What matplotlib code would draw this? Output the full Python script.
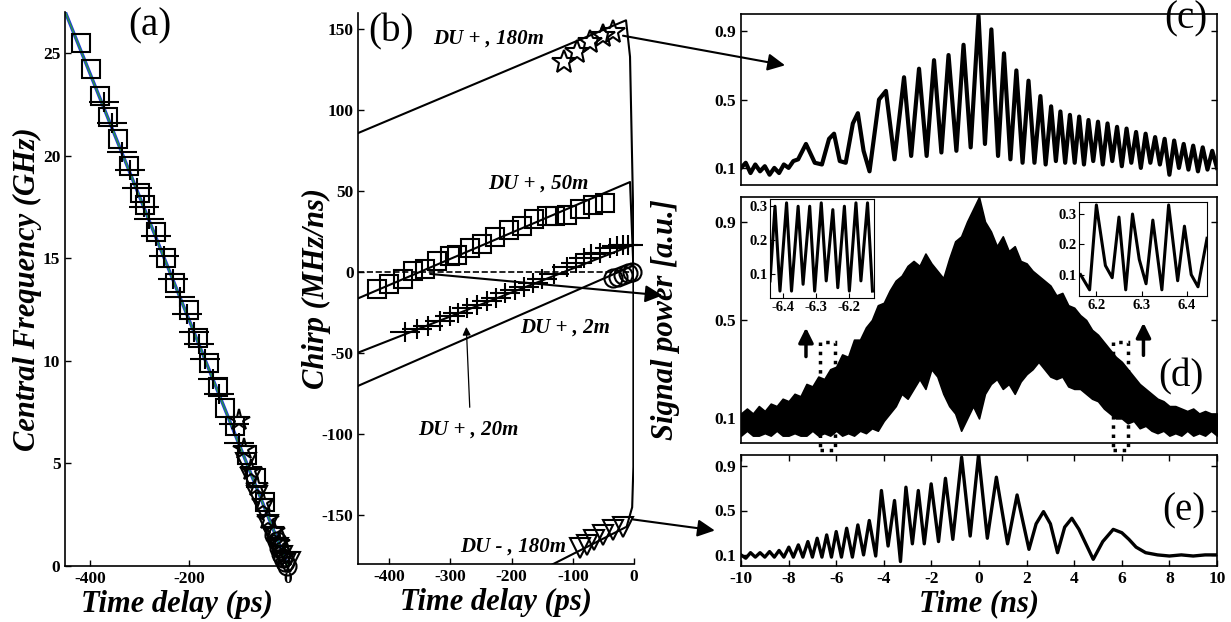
import matplotlib
matplotlib.use('Agg')
import matplotlib.pyplot as plt
from matplotlib.patches import ConnectionPatch, Rectangle

plt.rcParams['font.family'] = ['Liberation Serif', 'DejaVu Serif']
plt.rcParams['font.weight'] = 'bold'
plt.rcParams['axes.unicode_minus'] = False

# ---------------- panel (a): central frequency vs delay ----------------
fit_t = [-450, 0]
fit_f = [27.0, 0.0]
sq_a_t = [-418, -399, -380, -363, -343, -321, -299, -289, -267, -246, -228, -201,
          -181, -159, -141, -127, -108, -83, -65, -46]
sq_a_f = [25.5, 24.2, 22.9, 21.9, 20.8, 19.5, 18.2, 17.6, 16.3, 15.0, 13.8, 12.5,
          11.1, 9.9, 8.7, 7.7, 6.8, 5.4, 4.3, 3.1]
cr_a_t = [-372, -355, -335, -320, -305, -290, -280, -266, -250, -233, -218, -205,
          -190, -180, -168, -152, -140, -110, -100]
cr_a_f = [22.6, 21.6, 20.2, 19.3, 18.4, 17.5, 16.9, 16.1, 15.1, 14.0, 13.1, 12.3,
          11.4, 10.8, 10.1, 9.1, 8.4, 6.9, 6.0]
st_a_t = [-100, -88, -75, -62, -50, -40, -28, -18, -8]
st_a_f = [7.1, 5.7, 4.7, 3.9, 3.1, 2.3, 1.7, 1.1, 0.5]
tr_a_t = [-85, -75, -62, -50, -40, -30, -20, -12, -4, 5]
tr_a_f = [5.0, 4.3, 3.4, 2.8, 2.0, 1.4, 0.9, 0.5, 0.2, 0.2]
ci_a_t = [-28, -22, -18, -14, -10, -6, -2]
ci_a_f = [1.5, 1.2, 0.9, 0.6, 0.4, 0.2, 0.0]

# ---------------- panel (b): chirp vs delay ----------------
l180p_t = [-450, -13, -6.5, -1.5, -1.0]
l180p_c = [86, 155.5, 133, 40, 0]
l180m_t = [-137, -12, -3, -1.0, -1.0]
l180m_c = [-181, -157, -145, -120, 0]
l50_t = [-450, -6.5, -1.1]
l50_c = [-16, 55.7, 3.9]
l20_t = [-450, -1]
l20_c = [-49.5, 17]
l2_t = [-450, -2]
l2_c = [-70, 4]
zero_t = [-450, -5]
zero_c = [0, 0]

st_b_t = [-114, -93, -72, -51, -34]
st_b_c = [130, 136, 142, 145.5, 148]
sq_b_t = [-419, -399.5, -377.6, -361.3, -341, -322, -300, -289.5, -268, -249, -227,
          -204, -183, -163, -142.5, -129, -110, -88, -66.4, -47.3]
sq_b_c = [-10.5, -7.4, -4.3, 0.8, 2.3, 7, 10, 10.5, 15, 17.3, 22, 26, 28.6, 32.7,
          34.8, 34.8, 35.4, 39.3, 41.4, 42.6]
cr_b_t = [-374, -355, -336, -317, -300, -287, -273, -257, -240, -225, -210, -195,
          -180, -165, -150, -130, -110, -95, -82, -70, -55, -40, -28, -18, -10]
cr_b_c = [-37, -35, -33, -30, -27, -25, -22, -20, -18, -16, -13, -11, -9, -6.5, -4,
          -1, 3, 6, 9, 11, 12, 15, 16, 17, 17]
ci_b_t = [-33.7, -25.6, -17.4, -9.3, -3.8]
ci_b_c = [-3.3, -2.7, -1.9, -0.6, 0.2]
tr_b_t = [-88, -77, -66, -50, -34, -17.4]
tr_b_c = [-170, -168, -165, -162, -159, -157]

# ---------------- panel (c): DU+ 180m pulse ----------------
c_t = [-10.0, -9.8, -9.6, -9.4, -9.2, -9.0, -8.8, -8.6, -8.4, -8.2, -8.0, -7.8, -7.6,
       -7.27, -6.9, -6.6, -6.3, -6.09, -5.85, -5.6, -5.3, -5.09, -4.85, -4.6, -4.2,
       -3.91, -3.55, -3.15, -2.85, -2.52, -2.2, -1.89, -1.58, -1.28, -0.95, -0.65,
       -0.35, -0.02, 0.25, 0.52, 0.8, 1.05, 1.32, 1.57, 1.83, 2.08, 2.33, 2.58, 2.8,
       3.03, 3.23, 3.42, 3.62, 3.82, 4.02, 4.21, 4.41, 4.6, 4.8, 5.0, 5.2, 5.4, 5.6,
       5.8, 6.0, 6.2, 6.4, 6.6, 6.8, 7.0, 7.2, 7.4, 7.6, 7.8, 8.0, 8.2, 8.4, 8.6, 8.8,
       9.0, 9.2, 9.4, 9.6, 9.8, 10.0]
c_v = [0.1, 0.13, 0.07, 0.12, 0.08, 0.11, 0.06, 0.1, 0.07, 0.12, 0.1, 0.14, 0.15,
       0.24, 0.13, 0.12, 0.27, 0.30, 0.14, 0.13, 0.36, 0.42, 0.2, 0.08, 0.5,
       0.55, 0.15, 0.63, 0.17, 0.68, 0.17, 0.73, 0.19, 0.76, 0.2, 0.82,
       0.22, 0.99, 0.24, 0.91, 0.17, 0.77, 0.15, 0.67, 0.13, 0.61, 0.13, 0.52, 0.12,
       0.46, 0.14, 0.43, 0.13, 0.41, 0.13, 0.4, 0.12, 0.38, 0.14, 0.37, 0.12, 0.36, 0.14,
       0.34, 0.11, 0.33, 0.13, 0.31, 0.1, 0.3, 0.13, 0.28, 0.12, 0.27, 0.06, 0.26, 0.1,
       0.24, 0.09, 0.23, 0.08, 0.22, 0.09, 0.2, 0.1]

# ---------------- panel (d): DU+ 2m pulse (envelope of dense trace) ----------------
d_t = [-10, -9.75, -9.5, -9.25, -9, -8.75, -8.5, -8.25, -8, -7.75, -7.5, -7.25, -7,
       -6.75, -6.5, -6.25, -6, -5.75, -5.5, -5.25, -5, -4.75, -4.5, -4.25, -4, -3.75,
       -3.5, -3.25, -3, -2.75, -2.5, -2.25, -2, -1.75, -1.5, -1.25, -1, -0.75, -0.5,
       -0.25, 0, 0.25, 0.5, 0.75, 1, 1.25, 1.5, 1.75, 2, 2.25, 2.5, 2.75, 3, 3.25, 3.5,
       3.75, 4, 4.25, 4.5, 4.75, 5, 5.25, 5.5, 5.75, 6, 6.25, 6.5, 6.75, 7, 7.25, 7.5,
       7.75, 8, 8.25, 8.5, 8.75, 9, 9.25, 9.5, 9.75, 10]
d_up = [0.12, 0.14, 0.12, 0.15, 0.13, 0.16, 0.15, 0.18, 0.17, 0.2, 0.19, 0.24, 0.23,
        0.27, 0.26, 0.3, 0.31, 0.36, 0.35, 0.42, 0.42, 0.47, 0.5, 0.56, 0.57, 0.62,
        0.66, 0.68, 0.72, 0.74, 0.72, 0.77, 0.73, 0.7, 0.67, 0.75, 0.82, 0.84, 0.9,
        0.95, 1.0, 0.9, 0.86, 0.8, 0.84, 0.78, 0.8, 0.74, 0.73, 0.7, 0.68, 0.66, 0.64,
        0.6, 0.61, 0.56, 0.55, 0.52, 0.5, 0.46, 0.44, 0.41, 0.38, 0.35, 0.33, 0.3, 0.27,
        0.24, 0.22, 0.2, 0.18, 0.17, 0.15, 0.15, 0.14, 0.13, 0.14, 0.12, 0.13, 0.12, 0.12]
d_lo = [0.03, 0.05, 0.03, 0.03, 0.04, 0.03, 0.05, 0.03, 0.03, 0.04, 0.03, 0.03, 0.05,
        0.03, 0.04, 0.03, 0.05, 0.03, 0.04, 0.03, 0.05, 0.04, 0.06, 0.05, 0.09, 0.12,
        0.15, 0.2, 0.18, 0.22, 0.26, 0.22, 0.3, 0.27, 0.2, 0.15, 0.12, 0.05, 0.1,
        0.15, 0.1, 0.2, 0.24, 0.26, 0.22, 0.24, 0.2, 0.25, 0.28, 0.3, 0.33, 0.3, 0.27,
        0.26, 0.27, 0.23, 0.22, 0.22, 0.2, 0.18, 0.17, 0.14, 0.12, 0.1, 0.1, 0.08, 0.09,
        0.06, 0.07, 0.05, 0.04, 0.05, 0.03, 0.04, 0.03, 0.05, 0.03, 0.04, 0.03, 0.05, 0.03]
li_t = [-6.44, -6.425, -6.41, -6.39, -6.375, -6.355, -6.34, -6.32, -6.305, -6.285,
        -6.27, -6.25, -6.235, -6.215, -6.2, -6.18, -6.165, -6.145, -6.13]
li_v = [0.08, 0.30, 0.05, 0.31, 0.05, 0.30, 0.07, 0.30, 0.05, 0.31, 0.08, 0.29, 0.06,
        0.30, 0.05, 0.31, 0.08, 0.31, 0.05]
ri_t = [6.165, 6.185, 6.2, 6.22, 6.235, 6.25, 6.265, 6.28, 6.295, 6.31, 6.325, 6.345,
        6.36, 6.38, 6.395, 6.41, 6.425, 6.445]
ri_v = [0.1, 0.05, 0.33, 0.13, 0.09, 0.29, 0.05, 0.30, 0.15, 0.07, 0.28, 0.05, 0.33,
        0.08, 0.26, 0.1, 0.06, 0.22]

# ---------------- panel (e): DU- 180m pulse ----------------
e_t = [-10, -9.8, -9.6, -9.4, -9.2, -9.0, -8.8, -8.6, -8.4, -8.2, -7.99, -7.8, -7.59,
       -7.4, -7.19, -7.0, -6.8, -6.6, -6.4, -6.2, -6.0, -5.78, -5.56, -5.32, -5.09,
       -4.85, -4.61, -4.34, -4.1, -3.82, -3.55, -3.3, -3.07, -2.8, -2.55, -2.3, -2.01,
       -1.7, -1.41, -1.1, -0.73, -0.37, -0.02, 0.35, 0.73, 1.2, 1.6, 2.1, 2.4, 2.71,
       3.0, 3.3, 3.6, 3.9, 4.2, 4.8, 5.2, 5.64, 6.0, 6.3, 6.6, 7.0, 7.5, 8.0, 8.5, 9.0,
       9.5, 10]
e_v = [0.1, 0.07, 0.12, 0.08, 0.12, 0.08, 0.13, 0.08, 0.14, 0.08, 0.17, 0.08, 0.19,
       0.08, 0.22, 0.08, 0.25, 0.08, 0.28, 0.08, 0.31, 0.08, 0.34, 0.08, 0.37,
       0.1, 0.41, 0.09, 0.68, 0.18, 0.59, 0.04, 0.71, 0.2, 0.68, 0.2, 0.74,
       0.22, 0.79, 0.24, 0.98, 0.27, 1.0, 0.25, 0.8, 0.2, 0.64, 0.15, 0.38, 0.49,
       0.38, 0.12, 0.35, 0.43, 0.33, 0.06, 0.22, 0.33, 0.3, 0.24, 0.17, 0.12, 0.1, 0.09,
       0.1, 0.09, 0.1, 0.1]

W, H = 1231, 622


def box(left, top, right, bottom):
    return [left / W, 1 - bottom / H, (right - left) / W, (bottom - top) / H]


def style(ax, size=12.5):
    ax.tick_params(direction='in', labelsize=size, width=1, length=4)
    for sp in ax.spines.values():
        sp.set_linewidth(1.2)


def cross(ax, t, v):
    # the crosses of the figure have long horizontal and short vertical arms
    ax.plot(t, v, marker='_', ms=22, **mk)
    ax.plot(t, v, marker='|', ms=15, **mk)


lab_font = dict(fontsize=22, fontweight='bold', fontstyle='italic')
du_font = dict(fontsize=15, fontweight='bold', fontstyle='italic')
tag_font = dict(fontsize=28, fontweight='normal', ha='center', va='center')
mk = dict(ls='none', mfc='none', mec='k', mew=1.5, clip_on=False)

fig = plt.figure(figsize=(12.31, 6.22), dpi=100)

# (a)
ax_a = fig.add_axes(box(65.3, 12, 288, 566))
ax_a.plot(fit_t, fit_f, color='#1f3cd6', lw=2.4)
ax_a.plot(fit_t, fit_f, color='#2ca02c', lw=0.9)
ax_a.plot(sq_a_t, sq_a_f, marker='s', ms=13, **mk)
cross(ax_a, cr_a_t, cr_a_f)
ax_a.plot(st_a_t, st_a_f, marker='*', ms=16, **mk)
ax_a.plot(tr_a_t, tr_a_f, marker='v', ms=14, **mk)
ax_a.plot(ci_a_t, ci_a_f, marker='o', ms=13, **mk)
ax_a.set_xlim(-450, 0)
ax_a.set_ylim(0, 27)
ax_a.set_xticks([-400, -200, 0])
ax_a.set_yticks([0, 5, 10, 15, 20, 25])
ax_a.spines['top'].set_visible(False)
ax_a.spines['right'].set_visible(False)
style(ax_a)
ax_a.set_xlabel('Time delay (ps)', labelpad=2, **lab_font)
ax_a.set_ylabel('Central Frequency (GHz)', **lab_font)
ax_a.yaxis.set_label_coords(-0.105, 0.5)
ax_a.text(0.38, 0.975, '(a)', transform=ax_a.transAxes, **tag_font)

# (b)
ax_b = fig.add_axes(box(358.4, 13, 634, 564))
ax_b.plot(l180p_t, l180p_c, color='k', lw=1.5)
ax_b.plot(l180m_t, l180m_c, color='k', lw=1.5)
ax_b.plot(l50_t, l50_c, color='k', lw=1.5)
ax_b.plot(l20_t, l20_c, color='k', lw=1.5)
ax_b.plot(l2_t, l2_c, color='k', lw=1.5)
ax_b.plot(zero_t, zero_c, color='k', lw=1.2, ls='--')
ax_b.plot(st_b_t, st_b_c, marker='*', ms=18, **mk)
ax_b.plot(sq_b_t, sq_b_c, marker='s', ms=13, **mk)
cross(ax_b, cr_b_t, cr_b_c)
ax_b.plot(ci_b_t, ci_b_c, marker='o', ms=13, **mk)
ax_b.plot(tr_b_t, tr_b_c, marker='v', ms=15, **mk)
ax_b.set_xlim(-450, 0)
ax_b.set_ylim(-180, 160)
ax_b.set_xticks([-400, -300, -200, -100, 0])
ax_b.set_yticks([-150, -100, -50, 0, 50, 100, 150])
ax_b.spines['top'].set_visible(False)
ax_b.spines['right'].set_visible(False)
style(ax_b)
ax_b.set_xlabel('Time delay (ps)', labelpad=2, **lab_font)
ax_b.set_ylabel('Chirp (MHz/ns)', **lab_font)
ax_b.yaxis.set_label_coords(-0.10, 0.5)
ax_b.text(0.12, 0.965, '(b)', transform=ax_b.transAxes, **tag_font)
ax_b.text(-328, 144, 'DU + , 180m', ha='left', va='center', **du_font)
ax_b.text(-238, 55, 'DU + , 50m', ha='left', va='center', **du_font)
ax_b.text(-186, -34, 'DU + , 2m', ha='left', va='center', **du_font)
ax_b.text(-353, -97, 'DU + , 20m', ha='left', va='center', **du_font)
ax_b.text(-284, -169, 'DU - , 180m', ha='left', va='center', **du_font)
ax_b.annotate('', xy=(-274, -32), xytext=(-268, -85),
              arrowprops=dict(arrowstyle='-|>', color='k', lw=0.9, mutation_scale=12))

# (c)
ax_c = fig.add_axes(box(741, 14, 1217, 185))
ax_c.plot(c_t, c_v, color='k', lw=3.0)
ax_c.set_xlim(-10, 10)
ax_c.set_ylim(0, 1)
ax_c.set_yticks([0.1, 0.5, 0.9])
ax_c.set_xticks([])
ax_c.tick_params(right=True)
style(ax_c)
ax_c.text(0.935, 0.97, '(c)', transform=ax_c.transAxes, **tag_font)

# (d)
ax_d = fig.add_axes(box(741, 197, 1217, 443))
ax_d.fill_between(d_t, d_lo, d_up, color='k', lw=1.2)
ax_d.set_xlim(-10, 10)
ax_d.set_ylim(0, 1)
ax_d.set_yticks([0.1, 0.5, 0.9])
ax_d.set_xticks([])
ax_d.tick_params(right=True)
style(ax_d)
ax_d.text(0.925, 0.27, '(d)', transform=ax_d.transAxes, **tag_font)
for x0, x1 in [(-6.67, -6.04), (5.64, 6.27)]:
    ax_d.add_patch(Rectangle((x0, -0.03), x1 - x0, 0.44, fill=False, ls=':', lw=2.5,
                             ec='k', clip_on=False))
ax_d.annotate('', xy=(-7.27, 0.48), xytext=(-7.27, 0.34),
              arrowprops=dict(arrowstyle='-|>', color='k', lw=2.5, mutation_scale=22))
ax_d.annotate('', xy=(6.91, 0.5), xytext=(6.91, 0.345),
              arrowprops=dict(arrowstyle='-|>', color='k', lw=2.5, mutation_scale=22))
ax_d.set_ylabel('Signal power [a.u.]', **lab_font)
ax_d.yaxis.set_label_coords(-0.128, 0.5)

# insets of (d)
dl, db, dw, dh = box(741, 197, 1217, 443)
ax_l = fig.add_axes([dl + 0.061 * dw, db + 0.59 * dh, 0.218 * dw, 0.40 * dh])
ax_l.plot(li_t, li_v, color='k', lw=2.2)
ax_l.set_xlim(-6.44, -6.126)
ax_l.set_ylim(0.03, 0.32)
ax_l.set_xticks([-6.4, -6.3, -6.2])
ax_l.set_yticks([0.1, 0.2, 0.3])
ax_l.tick_params(direction='in', labelsize=10.5, pad=2)

ax_r = fig.add_axes([dl + 0.711 * dw, db + 0.598 * dh, 0.269 * dw, 0.382 * dh])
ax_r.plot(ri_t, ri_v, color='k', lw=2.2)
ax_r.set_xlim(6.1625, 6.446)
ax_r.set_ylim(0.03, 0.34)
ax_r.set_xticks([6.2, 6.3, 6.4])
ax_r.set_yticks([0.1, 0.2, 0.3])
ax_r.tick_params(direction='in', labelsize=10.5, pad=2)

# (e)
ax_e = fig.add_axes(box(741, 455, 1217, 566))
ax_e.plot(e_t, e_v, color='k', lw=2.4)
ax_e.set_xlim(-10, 10)
ax_e.set_ylim(0, 1)
ax_e.set_yticks([0.1, 0.5, 0.9])
ax_e.set_xticks(range(-10, 11, 2))
ax_e.tick_params(right=True, top=True)
style(ax_e)
ax_e.set_xlabel('Time (ns)', labelpad=2, **lab_font)
ax_e.text(0.93, 0.5, '(e)', transform=ax_e.transAxes, **tag_font)

# arrows linking chirp curves to their pulses
arrows = [((-18, 146), ax_c, (-8.15, 0.7)),
          ((-333, -1), ax_d, (-13.3, 0.6)),
          ((-1.6, -152.5), ax_e, (-11.1, 0.32))]
for start, ax_to, end in arrows:
    con = ConnectionPatch(xyA=start, coordsA=ax_b.transData, xyB=end,
                          coordsB=ax_to.transData, arrowstyle='-|>', color='k',
                          lw=1.5, mutation_scale=26)
    fig.add_artist(con)

fig.savefig('out.png', dpi=100)
